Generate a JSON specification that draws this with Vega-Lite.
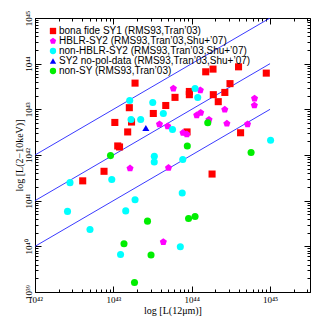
{
  "$schema": "https://vega.github.io/schema/vega-lite/v6.json",
  "width": 275,
  "height": 274,
  "autosize": {"type": "none"},
  "padding": {"left": 35, "top": 18, "right": 17, "bottom": 35},
  "background": "white",
  "config": {
    "view": {"stroke": "black", "strokeWidth": 1},
    "font": "Liberation Serif",
    "axis": {
      "domainColor": "black",
      "tickColor": "black",
      "labelColor": "black",
      "titleColor": "black",
      "labelFont": "Liberation Serif",
      "titleFont": "Liberation Serif",
      "labelFontSize": 9,
      "titleFontSize": 10,
      "titleFontWeight": "normal",
      "grid": false
    },
    "legend": {
      "labelFont": "Liberation Sans",
      "labelFontSize": 10,
      "labelColor": "black",
      "labelLimit": 400
    }
  },
  "datasets": {
    "points": [
      {"g": "bona fide SY1 (RMS93,Tran’03)", "x": 43.277, "y": 43.574},
      {"g": "bona fide SY1 (RMS93,Tran’03)", "x": 44.179, "y": 43.822},
      {"g": "bona fide SY1 (RMS93,Tran’03)", "x": 44.272, "y": 43.881},
      {"g": "bona fide SY1 (RMS93,Tran’03)", "x": 44.598, "y": 43.931},
      {"g": "bona fide SY1 (RMS93,Tran’03)", "x": 44.952, "y": 43.793},
      {"g": "bona fide SY1 (RMS93,Tran’03)", "x": 44.489, "y": 43.563},
      {"g": "bona fide SY1 (RMS93,Tran’03)", "x": 43.787, "y": 43.262},
      {"g": "bona fide SY1 (RMS93,Tran’03)", "x": 43.970, "y": 43.391},
      {"g": "bona fide SY1 (RMS93,Tran’03)", "x": 43.970, "y": 43.321},
      {"g": "bona fide SY1 (RMS93,Tran’03)", "x": 44.276, "y": 43.321},
      {"g": "bona fide SY1 (RMS93,Tran’03)", "x": 44.423, "y": 43.370},
      {"g": "bona fide SY1 (RMS93,Tran’03)", "x": 44.339, "y": 43.168},
      {"g": "bona fide SY1 (RMS93,Tran’03)", "x": 43.669, "y": 43.084},
      {"g": "bona fide SY1 (RMS93,Tran’03)", "x": 43.204, "y": 43.036},
      {"g": "bona fide SY1 (RMS93,Tran’03)", "x": 43.510, "y": 42.909},
      {"g": "bona fide SY1 (RMS93,Tran’03)", "x": 43.019, "y": 42.713},
      {"g": "bona fide SY1 (RMS93,Tran’03)", "x": 43.232, "y": 42.722},
      {"g": "bona fide SY1 (RMS93,Tran’03)", "x": 43.183, "y": 42.505},
      {"g": "bona fide SY1 (RMS93,Tran’03)", "x": 43.941, "y": 42.505},
      {"g": "bona fide SY1 (RMS93,Tran’03)", "x": 43.056, "y": 42.198},
      {"g": "bona fide SY1 (RMS93,Tran’03)", "x": 43.079, "y": 42.176},
      {"g": "bona fide SY1 (RMS93,Tran’03)", "x": 42.881, "y": 41.643},
      {"g": "bona fide SY1 (RMS93,Tran’03)", "x": 42.609, "y": 41.434},
      {"g": "bona fide SY1 (RMS93,Tran’03)", "x": 44.624, "y": 42.487},
      {"g": "bona fide SY1 (RMS93,Tran’03)", "x": 44.260, "y": 41.583},
      {"g": "HBLR-SY2 (RMS93,Tran’03,Shu+’07)", "x": 43.766, "y": 43.457},
      {"g": "HBLR-SY2 (RMS93,Tran’03,Shu+’07)", "x": 44.110, "y": 43.420},
      {"g": "HBLR-SY2 (RMS93,Tran’03,Shu+’07)", "x": 44.802, "y": 43.238},
      {"g": "HBLR-SY2 (RMS93,Tran’03,Shu+’07)", "x": 44.800, "y": 43.087},
      {"g": "HBLR-SY2 (RMS93,Tran’03,Shu+’07)", "x": 44.422, "y": 42.996},
      {"g": "HBLR-SY2 (RMS93,Tran’03,Shu+’07)", "x": 44.064, "y": 42.871},
      {"g": "HBLR-SY2 (RMS93,Tran’03,Shu+’07)", "x": 44.115, "y": 42.926},
      {"g": "HBLR-SY2 (RMS93,Tran’03,Shu+’07)", "x": 44.221, "y": 42.773},
      {"g": "HBLR-SY2 (RMS93,Tran’03,Shu+’07)", "x": 44.449, "y": 42.689},
      {"g": "HBLR-SY2 (RMS93,Tran’03,Shu+’07)", "x": 43.589, "y": 42.674},
      {"g": "HBLR-SY2 (RMS93,Tran’03,Shu+’07)", "x": 43.694, "y": 42.630},
      {"g": "HBLR-SY2 (RMS93,Tran’03,Shu+’07)", "x": 43.889, "y": 42.487},
      {"g": "HBLR-SY2 (RMS93,Tran’03,Shu+’07)", "x": 43.938, "y": 42.454},
      {"g": "HBLR-SY2 (RMS93,Tran’03,Shu+’07)", "x": 44.713, "y": 42.674},
      {"g": "HBLR-SY2 (RMS93,Tran’03,Shu+’07)", "x": 43.213, "y": 41.708},
      {"g": "HBLR-SY2 (RMS93,Tran’03,Shu+’07)", "x": 43.704, "y": 41.719},
      {"g": "HBLR-SY2 (RMS93,Tran’03,Shu+’07)", "x": 43.638, "y": 40.095},
      {"g": "non-HBLR-SY2 (RMS93,Tran’03,Shu+’07)", "x": 44.043, "y": 43.457},
      {"g": "non-HBLR-SY2 (RMS93,Tran’03,Shu+’07)", "x": 44.077, "y": 43.260},
      {"g": "non-HBLR-SY2 (RMS93,Tran’03,Shu+’07)", "x": 43.209, "y": 43.194},
      {"g": "non-HBLR-SY2 (RMS93,Tran’03,Shu+’07)", "x": 43.503, "y": 43.150},
      {"g": "non-HBLR-SY2 (RMS93,Tran’03,Shu+’07)", "x": 43.226, "y": 42.777},
      {"g": "non-HBLR-SY2 (RMS93,Tran’03,Shu+’07)", "x": 43.349, "y": 42.777},
      {"g": "non-HBLR-SY2 (RMS93,Tran’03,Shu+’07)", "x": 43.638, "y": 42.909},
      {"g": "non-HBLR-SY2 (RMS93,Tran’03,Shu+’07)", "x": 43.755, "y": 42.558},
      {"g": "non-HBLR-SY2 (RMS93,Tran’03,Shu+’07)", "x": 43.523, "y": 41.972},
      {"g": "non-HBLR-SY2 (RMS93,Tran’03,Shu+’07)", "x": 43.522, "y": 41.847},
      {"g": "non-HBLR-SY2 (RMS93,Tran’03,Shu+’07)", "x": 43.886, "y": 41.901},
      {"g": "non-HBLR-SY2 (RMS93,Tran’03,Shu+’07)", "x": 42.980, "y": 41.463},
      {"g": "non-HBLR-SY2 (RMS93,Tran’03,Shu+’07)", "x": 42.447, "y": 41.395},
      {"g": "non-HBLR-SY2 (RMS93,Tran’03,Shu+’07)", "x": 43.277, "y": 41.021},
      {"g": "non-HBLR-SY2 (RMS93,Tran’03,Shu+’07)", "x": 43.879, "y": 41.166},
      {"g": "non-HBLR-SY2 (RMS93,Tran’03,Shu+’07)", "x": 45.007, "y": 42.323},
      {"g": "non-HBLR-SY2 (RMS93,Tran’03,Shu+’07)", "x": 42.415, "y": 40.765},
      {"g": "non-HBLR-SY2 (RMS93,Tran’03,Shu+’07)", "x": 43.158, "y": 40.776},
      {"g": "non-HBLR-SY2 (RMS93,Tran’03,Shu+’07)", "x": 42.702, "y": 40.370},
      {"g": "non-HBLR-SY2 (RMS93,Tran’03,Shu+’07)", "x": 43.092, "y": 39.821},
      {"g": "non-HBLR-SY2 (RMS93,Tran’03,Shu+’07)", "x": 43.855, "y": 39.990},
      {"g": "SY2 no-pol-data (RMS93,Tran’03,Shu+’07)", "x": 43.415, "y": 42.591},
      {"g": "non-SY (RMS93,Tran’03)", "x": 44.205, "y": 42.707},
      {"g": "non-SY (RMS93,Tran’03)", "x": 43.944, "y": 42.198},
      {"g": "non-SY (RMS93,Tran’03)", "x": 42.964, "y": 41.987},
      {"g": "non-SY (RMS93,Tran’03)", "x": 44.758, "y": 42.055},
      {"g": "non-SY (RMS93,Tran’03)", "x": 43.436, "y": 40.552},
      {"g": "non-SY (RMS93,Tran’03)", "x": 43.960, "y": 40.611},
      {"g": "non-SY (RMS93,Tran’03)", "x": 44.043, "y": 40.655},
      {"g": "non-SY (RMS93,Tran’03)", "x": 43.136, "y": 40.056},
      {"g": "non-SY (RMS93,Tran’03)", "x": 43.481, "y": 39.810},
      {"g": "non-SY (RMS93,Tran’03)", "x": 43.270, "y": 39.207}
    ],
    "lines": [
      {"k": "a", "x": 42, "y": 42},
      {"k": "a", "x": 45, "y": 45},
      {"k": "b", "x": 42, "y": 41},
      {"k": "b", "x": 45, "y": 44},
      {"k": "c", "x": 42, "y": 40},
      {"k": "c", "x": 45, "y": 43}
    ]
  },
  "layer": [
    {
      "data": {"name": "lines"},
      "mark": {"type": "line", "color": "#2424ff", "strokeWidth": 0.9, "clip": true},
      "encoding": {
        "detail": {"field": "k", "type": "nominal"},
        "x": {
          "field": "x", "type": "quantitative",
          "scale": {"domain": [42, 45.51], "nice": false, "zero": false},
          "axis": {
            "orient": "bottom",
            "title": "log [L(12μm)]",
            "titleX": 137.5,
            "titleY": 18,
            "titleAlign": "center",
            "titleBaseline": "middle",
            "values": [42, 42.301, 42.477, 42.602, 42.699, 42.778, 42.845, 42.903, 42.954, 43, 43.301, 43.477, 43.602, 43.699, 43.778, 43.845, 43.903, 43.954, 44, 44.301, 44.477, 44.602, 44.699, 44.778, 44.845, 44.903, 44.954, 45, 45.301, 45.477],
            "labelExpr": "datum.value==42?'10⁴²':datum.value==43?'10⁴³':datum.value==44?'10⁴⁴':datum.value==45?'10⁴⁵':''",
            "tickSize": {"condition": {"test": "abs(datum.value-round(datum.value))<0.001", "value": -6}, "value": -3},
            "labelPadding": 9,
            "labelFlush": false,
            "labelOverlap": false
          }
        },
        "y": {
          "field": "y", "type": "quantitative",
          "scale": {"domain": [39, 45], "nice": false, "zero": false},
          "axis": {
            "orient": "left",
            "title": "log [L(2−10keV)]",
            "titleX": -16,
            "titleY": 137,
            "titleAngle": -90,
            "titleAlign": "center",
            "titleBaseline": "middle",
            "values": [39, 39.301, 39.477, 39.602, 39.699, 39.778, 39.845, 39.903, 39.954, 40, 40.301, 40.477, 40.602, 40.699, 40.778, 40.845, 40.903, 40.954, 41, 41.301, 41.477, 41.602, 41.699, 41.778, 41.845, 41.903, 41.954, 42, 42.301, 42.477, 42.602, 42.699, 42.778, 42.845, 42.903, 42.954, 43, 43.301, 43.477, 43.602, 43.699, 43.778, 43.845, 43.903, 43.954, 44, 44.301, 44.477, 44.602, 44.699, 44.778, 44.845, 44.903, 44.954, 45],
            "labelExpr": "datum.value==39?'10³⁹':datum.value==40?'10⁴⁰':datum.value==41?'10⁴¹':datum.value==42?'10⁴²':datum.value==43?'10⁴³':datum.value==44?'10⁴⁴':datum.value==45?'10⁴⁵':''",
            "tickSize": {"condition": {"test": "abs(datum.value-round(datum.value))<0.001", "value": -6}, "value": -3},
            "labelAngle": -90,
            "labelAlign": "center",
            "labelBaseline": "bottom",
            "labelPadding": 8,
            "labelFlush": false,
            "labelOverlap": false
          }
        }
      }
    },
    {
      "data": {"name": "points"},
      "mark": {"type": "point", "filled": true, "opacity": 1, "size": 50},
      "encoding": {
        "x": {
          "field": "x", "type": "quantitative",
          "axis": {
            "orient": "top",
            "title": null,
            "labels": false,
            "domain": false,
            "values": [42, 42.301, 42.477, 42.602, 42.699, 42.778, 42.845, 42.903, 42.954, 43, 43.301, 43.477, 43.602, 43.699, 43.778, 43.845, 43.903, 43.954, 44, 44.301, 44.477, 44.602, 44.699, 44.778, 44.845, 44.903, 44.954, 45, 45.301, 45.477],
            "tickSize": {"condition": {"test": "abs(datum.value-round(datum.value))<0.001", "value": -6}, "value": -3}
          }
        },
        "y": {
          "field": "y", "type": "quantitative",
          "axis": {
            "orient": "right",
            "title": null,
            "labels": false,
            "domain": false,
            "values": [39, 39.301, 39.477, 39.602, 39.699, 39.778, 39.845, 39.903, 39.954, 40, 40.301, 40.477, 40.602, 40.699, 40.778, 40.845, 40.903, 40.954, 41, 41.301, 41.477, 41.602, 41.699, 41.778, 41.845, 41.903, 41.954, 42, 42.301, 42.477, 42.602, 42.699, 42.778, 42.845, 42.903, 42.954, 43, 43.301, 43.477, 43.602, 43.699, 43.778, 43.845, 43.903, 43.954, 44, 44.301, 44.477, 44.602, 44.699, 44.778, 44.845, 44.903, 44.954, 45],
            "tickSize": {"condition": {"test": "abs(datum.value-round(datum.value))<0.001", "value": -6}, "value": -3}
          }
        },
        "shape": {
          "field": "g", "type": "nominal",
          "scale": {
            "domain": ["bona fide SY1 (RMS93,Tran’03)", "HBLR-SY2 (RMS93,Tran’03,Shu+’07)", "non-HBLR-SY2 (RMS93,Tran’03,Shu+’07)", "SY2 no-pol-data (RMS93,Tran’03,Shu+’07)", "non-SY (RMS93,Tran’03)"],
            "range": ["square", "M0,-1.05L1,-0.32L0.62,0.85L-0.62,0.85L-1,-0.32Z", "circle", "triangle-up", "circle"]
          },
          "legend": null
        },
        "color": {
          "field": "g", "type": "nominal",
          "scale": {
            "domain": ["bona fide SY1 (RMS93,Tran’03)", "HBLR-SY2 (RMS93,Tran’03,Shu+’07)", "non-HBLR-SY2 (RMS93,Tran’03,Shu+’07)", "SY2 no-pol-data (RMS93,Tran’03,Shu+’07)", "non-SY (RMS93,Tran’03)"],
            "range": ["#ff0000", "#ff00ff", "#00ffff", "#0000ff", "#00ee00"]
          },
          "legend": {
            "title": null,
            "orient": "none",
            "legendX": 13,
            "legendY": 8,
            "padding": 0,
            "symbolSize": 40,
            "labelOffset": 1,
            "rowPadding": -0.7,
            "symbolStrokeWidth": 0
          }
        }
      }
    }
  ],
  "resolve": {"axis": {"x": "independent", "y": "independent"}}
}
